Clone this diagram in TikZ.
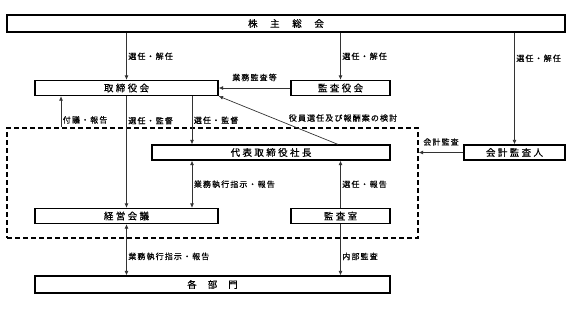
\documentclass[tikz,border=0pt]{standalone}
\usepackage{fontspec}
\setmainfont{Noto Sans CJK JP}
\newfontfamily\boxfont[LetterSpace=25,FakeBold=0.4]{Noto Sans CJK JP}
\newfontfamily\lblfont[LetterSpace=14,FakeBold=0.25]{Noto Sans CJK JP}
\usetikzlibrary{arrows.meta}
\tikzset{>={Latex[length=4.5pt,width=3.8pt]}}
\definecolor{linegray}{HTML}{333333}
\tikzset{
  orgbox/.style={draw=black,line width=1.2pt,fill=white,inner sep=0pt,
    minimum height=15pt,font=\boxfont\fontsize{9.5}{10}\selectfont},
  execbox/.style={draw=black,line width=1.2pt,dash pattern=on 5pt off 3pt,inner sep=0pt},
  flow/.style={->,draw=linegray,line width=0.7pt},
  lbl/.style={font=\lblfont\fontsize{8}{8}\selectfont,inner sep=1.5pt},
}
\begin{document}
\begin{tikzpicture}[x=1pt,y=-1pt]
\useasboundingbox (0,0) rectangle (575,309);
% boxes
\node[execbox,minimum width=411pt,minimum height=110pt] (exec) at (212.5,183) {};
\node[orgbox,minimum width=558pt,minimum height=17pt] (soukai) at (286,23.5)
  {株\hspace{12.6pt}主\hspace{12.6pt}総\hspace{12.6pt}会};
\node[orgbox,minimum width=183pt] (board) at (126.5,88) {取締役会};
\node[orgbox,minimum width=99pt] (kansa) at (340.5,88) {監査役会};
\node[orgbox,minimum width=101pt] (kaikei) at (514.5,152.5) {会計監査人};
\node[orgbox,minimum width=238pt] (president) at (271,152.5) {代表取締役社長};
\node[orgbox,minimum width=183pt] (keiei) at (126.5,216) {経営会議};
\node[orgbox,minimum width=99pt] (shitsu) at (340.5,216) {監査室};
\node[orgbox,minimum width=355pt,minimum height=17pt] (bumon) at (212.5,284.5)
  {各\hspace{11pt}部\hspace{11pt}門};
% x positions of the extra lines
\coordinate (fugi) at (61,0);
\coordinate (senin) at (192,0);
\coordinate (yakuin) at (338,0);
% connectors
\draw[flow] (soukai.south -| board.north) -- node[lbl,right]{選任・解任} (board.north);
\draw[flow] (soukai.south -| kansa.north) -- node[lbl,right]{選任・解任} (kansa.north);
\draw[flow] (soukai.south -| kaikei.north) -- node[lbl,right,pos=0.23]{選任・解任} (kaikei.north);
\draw[flow] (kansa.west) -- node[lbl,above=5pt]{業務監査等} (kansa.west -| board.east);
\draw[flow] (exec.north -| fugi) -- node[lbl,right,pos=0.24]{付議・報告} (board.south -| fugi);
\draw[flow] (board.south) -- node[lbl,right,pos=0.22]{選任・監督} (keiei.north);
\draw[flow] (board.south -| senin) -- node[lbl,right]{選任・監督} (president.north -| senin);
\draw[flow] (president.north -| yakuin) -- (board.south east);
\node[lbl] (yakuinlbl) at (343,118) {役員選任及び報酬案の検討};
\draw[flow] (kaikei.west) -- node[lbl,above=5pt]{会計監査} (kaikei.west -| exec.east);
\draw[flow,<->] (president.south -| senin) -- node[lbl,right]{業務執行指示・報告} (keiei.north -| senin);
\draw[flow] (shitsu.north) -- node[lbl,right]{選任・報告} (president.south -| shitsu.north);
\draw[flow,<->] (keiei.south) -- node[lbl,right,pos=0.63]{業務執行指示・報告} (bumon.north -| keiei.south);
\draw[flow] (shitsu.south) -- node[lbl,right,pos=0.63]{内部監査} (bumon.north -| shitsu.south);
\end{tikzpicture}
\end{document}
